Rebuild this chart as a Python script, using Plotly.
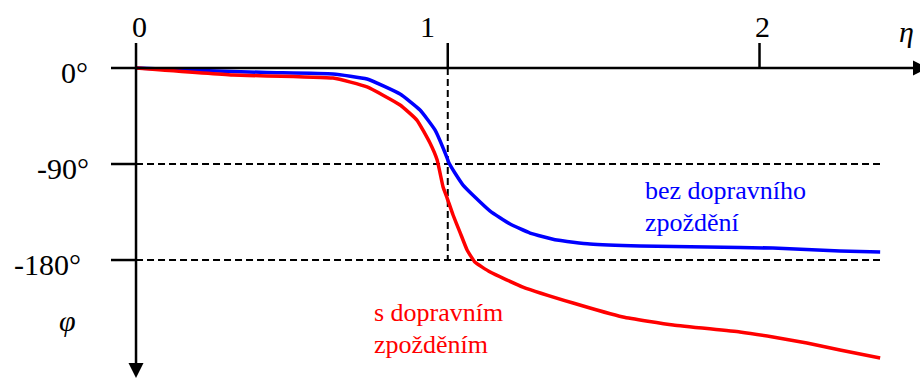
import plotly.graph_objects as go

# Phase-frequency characteristic: frequency ratio eta vs. phase phi (degrees)
eta_no_delay = [0.0, 0.205, 0.420, 0.632, 0.741, 0.847, 0.911, 0.959, 0.998, 1.004,
                1.023, 1.049, 1.087, 1.136, 1.200, 1.264, 1.350, 1.456, 1.617, 1.832,
                2.043, 2.258, 2.387]
phi_no_delay = [0.0, -2.3, -4.2, -5.6, -10.3, -24.4, -39.4, -58.1, -84.4, -89.1,
                -98.4, -109.7, -120.9, -134.1, -146.3, -154.7, -161.3, -165.0, -166.9, -167.8,
                -168.8, -171.6, -172.5]

eta_delay = [0.0, 0.311, 0.632, 0.741, 0.847, 0.901, 0.943, 0.966, 0.985, 0.998,
             1.017, 1.039, 1.062, 1.087, 1.136, 1.241, 1.402, 1.562, 1.723, 1.937,
             2.043, 2.152, 2.258, 2.387]
phi_delay = [0.0, -6.6, -9.4, -17.8, -34.7, -48.8, -70.3, -86.3, -111.6, -121.9,
             -137.8, -153.8, -170.6, -181.9, -191.3, -205.3, -220.3, -233.4, -240.9, -247.5,
             -252.2, -257.8, -264.4, -271.9]

eta_ticks = [0, 1, 2]
eta_tick_labels = ["0", "1", "2"]
phi_ticks = [0, -90, -180]
phi_tick_labels = ["0°", "-90°", "-180°"]

label_no_delay = ["bez dopravního", "zpoždění"]
label_delay = ["s dopravním", "zpožděním"]

W, H = 920, 378
X_RANGE = [-0.4363, 2.5148]
Y_RANGE = [-290.6, 63.75]

FONT = "Times New Roman, Liberation Serif, DejaVu Serif, serif"
BLUE = "#0000FF"
RED = "#FF0000"


def px_x(px):
    """Pixel column -> eta value."""
    return X_RANGE[0] + px / W * (X_RANGE[1] - X_RANGE[0])


def px_y(py):
    """Pixel row -> phi value."""
    return Y_RANGE[1] - py / H * (Y_RANGE[1] - Y_RANGE[0])


fig = go.Figure()

fig.add_trace(go.Scatter(x=eta_no_delay, y=phi_no_delay, mode="lines",
                         line=dict(color=BLUE, width=3.5, shape="spline", smoothing=0.4),
                         hoverinfo="skip"))
fig.add_trace(go.Scatter(x=eta_delay, y=phi_delay, mode="lines",
                         line=dict(color=RED, width=3.5, shape="spline", smoothing=0.4),
                         hoverinfo="skip"))

shapes = []
axis_line = dict(color="black", width=2.5)
dash_line = dict(color="black", width=2, dash="7px,4px")

x_left = px_x(111)
x_arrow = px_x(913)
x_dash_end = px_x(880)
y_top = px_y(43)
y_arrow = px_y(363)

# main axes
shapes.append(dict(type="line", x0=x_left, x1=x_arrow, y0=0, y1=0, line=axis_line))
shapes.append(dict(type="line", x0=0, x1=0, y0=y_top, y1=y_arrow, line=axis_line))

# tick marks
for v in eta_ticks[1:]:
    shapes.append(dict(type="line", x0=v, x1=v, y0=0, y1=y_top, line=axis_line))
for v in phi_ticks[1:]:
    shapes.append(dict(type="line", x0=x_left, x1=0, y0=v, y1=v, line=axis_line))

# dashed guides
for v in phi_ticks[1:]:
    shapes.append(dict(type="line", x0=0, x1=x_dash_end, y0=v, y1=v, line=dash_line, layer="below"))
shapes.append(dict(type="line", x0=1, x1=1, y0=0, y1=phi_ticks[-1], line=dash_line, layer="below"))

# arrow heads
shapes.append(dict(type="path", xsizemode="pixel", ysizemode="pixel",
                   xanchor=x_arrow, yanchor=0,
                   path="M 0,-7.5 L 15,0 L 0,7.5 Z",
                   fillcolor="black", line=dict(color="black", width=0)))
shapes.append(dict(type="path", xsizemode="pixel", ysizemode="pixel",
                   xanchor=0, yanchor=y_arrow,
                   path="M -7.5,0 L 7.5,0 L 0,-15 Z",
                   fillcolor="black", line=dict(color="black", width=0)))

annotations = []
tick_font = dict(family=FONT, size=30, color="black")

# eta tick labels above the axis
eta_label_shift = [3, -20, 3]
for v, t, s in zip(eta_ticks, eta_tick_labels, eta_label_shift):
    annotations.append(dict(x=v, y=px_y(26), text=t, showarrow=False, xshift=s,
                            xanchor="center", yanchor="middle", font=tick_font))

# phi tick labels left of the axis
phi_label_px = [74, 62.5, 47]
for v, t, px in zip(phi_ticks, phi_tick_labels, phi_label_px):
    annotations.append(dict(x=px_x(px), y=v, text=t, showarrow=False, yshift=-4.5,
                            xanchor="center", yanchor="middle", font=tick_font))

# axis names
annotations.append(dict(x=px_x(906), y=px_y(31), text="<i>η</i>", showarrow=False,
                        xanchor="center", yanchor="middle", font=tick_font))
annotations.append(dict(x=px_x(67), y=px_y(320), text="<i>φ</i>", showarrow=False,
                        xanchor="center", yanchor="middle", font=tick_font))

# curve labels
for i, t in enumerate(label_no_delay):
    annotations.append(dict(x=px_x(643), y=px_y(190 + 32 * i), text=t, showarrow=False,
                            xanchor="left", yanchor="middle",
                            font=dict(family=FONT, size=26, color=BLUE)))
for i, t in enumerate(label_delay):
    annotations.append(dict(x=px_x(372), y=px_y(312 + 32 * i), text=t, showarrow=False,
                            xanchor="left", yanchor="middle",
                            font=dict(family=FONT, size=26, color=RED)))

fig.update_layout(
    width=W, height=H,
    margin=dict(l=0, r=0, t=0, b=0),
    paper_bgcolor="white", plot_bgcolor="white",
    showlegend=False,
    font=dict(family=FONT),
    xaxis=dict(range=X_RANGE, visible=False, fixedrange=True),
    yaxis=dict(range=Y_RANGE, visible=False, fixedrange=True),
    shapes=shapes,
    annotations=annotations,
)

fig.write_html("out.html", config={"displayModeBar": False})
